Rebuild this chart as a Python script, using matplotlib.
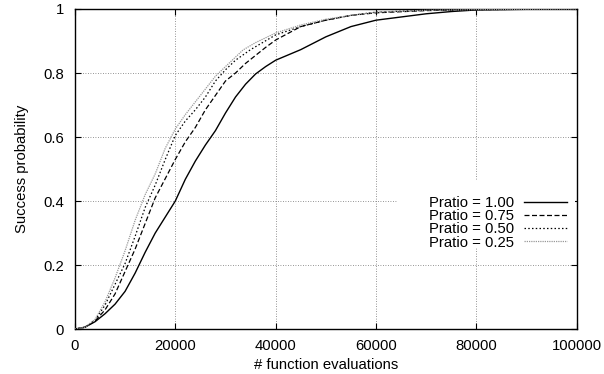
import numpy as np
import matplotlib
matplotlib.use('Agg')
import matplotlib.pyplot as plt
from matplotlib.patches import Rectangle

# values (function evaluations, success probability)
evals_100 = [0, 2000, 4000, 6000, 8000, 10000, 12000, 14000, 16000, 18000, 20000,
             22000, 24000, 26000, 28000, 30000, 32000, 34000, 36000, 38000, 40000,
             45000, 50000, 55000, 60000, 65000, 70000, 75000, 80000, 90000, 100000]
prob_100 = [0, 0.006, 0.023, 0.048, 0.078, 0.118, 0.175, 0.24, 0.3, 0.35, 0.4,
            0.468, 0.525, 0.575, 0.62, 0.675, 0.725, 0.765, 0.797, 0.82, 0.84,
            0.873, 0.913, 0.945, 0.965, 0.975, 0.985, 0.992, 0.997, 0.999, 1.0]

evals_075 = [0, 2000, 4000, 6000, 8000, 10000, 12000, 14000, 16000, 18000, 20000,
             22000, 24000, 26000, 28000, 30000, 32000, 34000, 36000, 38000, 40000,
             45000, 50000, 55000, 60000, 70000, 80000, 100000]
prob_075 = [0, 0.006, 0.025, 0.06, 0.11, 0.18, 0.25, 0.33, 0.41, 0.47, 0.53,
            0.585, 0.63, 0.685, 0.73, 0.775, 0.8, 0.83, 0.855, 0.88, 0.903,
            0.945, 0.965, 0.98, 0.988, 0.995, 0.998, 1.0]

evals_050 = [0, 2000, 4000, 6000, 8000, 10000, 12000, 14000, 16000, 18000, 20000,
             22000, 24000, 26000, 28000, 30000, 32000, 35000, 40000, 45000, 50000,
             55000, 60000, 70000, 80000, 100000]
prob_050 = [0, 0.006, 0.027, 0.075, 0.14, 0.205, 0.29, 0.38, 0.45, 0.53, 0.605,
            0.65, 0.685, 0.725, 0.775, 0.81, 0.84, 0.873, 0.919, 0.945, 0.965,
            0.98, 0.99, 0.996, 0.998, 1.0]

evals_025 = [0, 2000, 4000, 6000, 8000, 10000, 12000, 14000, 16000, 18000, 20000,
             22000, 24000, 26000, 28000, 30000, 33500, 36000, 40000, 45000, 50000,
             55000, 60000, 70000, 80000, 100000]
prob_025 = [0, 0.006, 0.03, 0.085, 0.16, 0.245, 0.34, 0.42, 0.485, 0.565, 0.625,
            0.67, 0.71, 0.75, 0.79, 0.82, 0.872, 0.895, 0.925, 0.95, 0.968,
            0.98, 0.99, 0.996, 0.998, 1.0]

labels = ['Pratio = 1.00', 'Pratio = 0.75', 'Pratio = 0.50', 'Pratio = 0.25']

plt.rcParams['font.family'] = ['Liberation Sans', 'DejaVu Sans']
plt.rcParams['font.size'] = 10.7

fig = plt.figure(figsize=(6.04, 3.74), dpi=100)
ax = fig.add_axes([0.124, 0.12, 0.831, 0.856])

ax.plot(evals_100, prob_100, color='black', lw=1.0, label=labels[0], zorder=3)
ax.plot(evals_075, prob_075, color='black', lw=0.9, ls=(0, (4, 2)), label=labels[1], zorder=3)
ax.plot(evals_050, prob_050, color='black', lw=0.9, ls=(0, (1.2, 1.8)), label=labels[2], zorder=3)
ax.plot(evals_025, prob_025, color='0.6', lw=0.9, ls=(0, (1, 0.8)), label=labels[3], zorder=3)

ax.set_xlim(0, 100000)
ax.set_ylim(0, 1)
ax.set_xticks(np.arange(0, 100001, 20000))
ax.set_yticks(np.arange(0, 1.01, 0.2))
ax.set_yticklabels(['0', '0.2', '0.4', '0.6', '0.8', '1'])
ax.tick_params(direction='in', length=4.5, width=0.8, top=True, right=True)
ax.tick_params(axis='x', pad=7)
ax.tick_params(axis='y', pad=8)
ax.set_axisbelow(True)
ax.grid(True, color='0.45', ls=(0, (1, 2)), lw=0.6, zorder=0.5)
for s in ax.spines.values():
    s.set_linewidth(1.0)

ax.set_xlabel('# function evaluations', labelpad=4)
ax.set_ylabel('Success probability', labelpad=10)

# key area covers the grid like gnuplot's key does
ax.add_patch(Rectangle((0.643, 0.253), 0.353, 0.213, transform=ax.transAxes,
                       facecolor='white', edgecolor='none', zorder=1))
ax.legend(loc='upper right', bbox_to_anchor=(0.98, 0.415), frameon=False,
          markerfirst=False, handlelength=2.9, handletextpad=0.65,
          labelspacing=-0.06, borderpad=0, borderaxespad=0)

plt.savefig('out.png', dpi=100)
